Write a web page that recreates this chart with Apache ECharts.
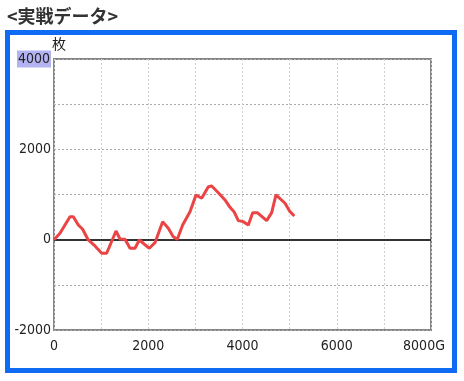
<!DOCTYPE html>
<html><head><meta charset="utf-8">
<script src="https://cdn.jsdelivr.net/npm/echarts@6/dist/echarts.min.js"></script>
<style>html,body{margin:0;padding:0;background:#fff}#c{width:464px;height:381px}</style>
</head><body><div id="c"></div>
<script>
const gamesX = [0,127,339,410,516,608,727,870,1012,1118,1316,1400,1506,1613,1719,1810,1895,2022,2143,2306,2425,2531,2616,2730,2886,3013,3134,3275,3346,3487,3629,3735,3820,3911,4018,4124,4216,4314,4513,4619,4711,4902,5008,5100];
const coinsY = [0,140,509,509,325,230,-7,-140,-300,-300,192,15,10,-190,-190,-7,-80,-190,-66,399,252,66,10,325,620,990,916,1173,1189,1040,879,717,620,421,399,325,598,598,421,598,990,806,620,525];
const xTicks = ['0','2000','4000','6000','8000G'];
const yTicks = ['-2000','0','2000','4000'];
const titleText = '<実戦データ>';
const unitText = '枚';

const chart = echarts.init(document.getElementById('c'), null, {renderer:'canvas'});
const lblFont = "'DejaVu Sans Condensed','DejaVu Sans',sans-serif";
chart.setOption({
  animation:false,
  backgroundColor:'#fff',
  title:{text:titleText,left:2,top:2,textStyle:{fontFamily:"'Noto Sans CJK JP',sans-serif",fontWeight:'bold',fontSize:18,color:'#333'}},
  graphic:[{type:'rect',shape:{x:7.5,y:32.5,width:447,height:338},style:{fill:null,stroke:'#0f6cf2',lineWidth:5},z:-1}],
  grid:{left:54,top:59,right:33,bottom:51,show:true,borderColor:'#858585',borderWidth:2,backgroundColor:'transparent'},
  xAxis:{type:'value',min:0,max:8000,interval:1000,
    axisLine:{show:false},axisTick:{show:false},
    splitLine:{show:true,lineStyle:{color:'#d0d0d0',type:[2,2],width:1}},
    axisLabel:{margin:9,fontFamily:lblFont,fontSize:14,color:'#222',
      formatter:function(v){const i=xTicks.indexOf(String(v));if(i>=0)return String(v);const s=v+'G';if(xTicks.indexOf(s)>=0)return '{g|'+s+'}';return '';},
      rich:{g:{fontFamily:lblFont,fontSize:14,color:'#222',padding:[0,14,0,0]}}}
  },
  yAxis:{type:'value',min:-2000,max:4000,interval:1000,
    name:unitText,nameLocation:'end',nameGap:6,
    nameTextStyle:{fontFamily:"'Noto Sans CJK JP',sans-serif",fontSize:14,color:'#222',align:'left',padding:[0,0,0,-2]},
    axisLine:{show:false},axisTick:{show:false},
    splitLine:{show:true,lineStyle:{color:'#aaa',type:[2,2],width:1}},
    axisLabel:{margin:3,fontFamily:lblFont,fontSize:14,color:'#222',
      formatter:function(v){const s=String(v);if(yTicks.indexOf(s)<0)return '';if(s==='4000')return '{h|'+s+'}';return s;},
      rich:{h:{fontFamily:lblFont,fontSize:14,color:'#222',backgroundColor:'#b3b3f2',padding:[2,1,1,1]}}}
  },
  series:[{type:'line',data:gamesX.map((x,i)=>[x,coinsY[i]]),showSymbol:false,
    lineStyle:{color:'#ea4444',width:3},smooth:false,z:3,
    markLine:{silent:true,symbol:'none',label:{show:false},lineStyle:{color:'#333',type:'solid',width:2},data:[{yAxis:0}],z:2}
  }]
});
</script></body></html>
